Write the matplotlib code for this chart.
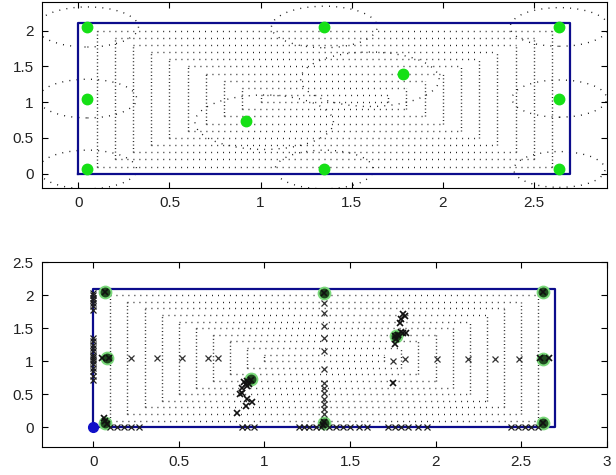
import matplotlib
matplotlib.use("Agg")
import matplotlib.pyplot as plt
from matplotlib.patches import Circle

plt.rcParams['font.family'] = ['Liberation Sans', 'DejaVu Sans']

# field (blue rectangle)
field_w = 2.7
field_h = 2.1

# nested coverage rings (inset from the field border)
ring_offsets = [0.1, 0.2, 0.3, 0.4, 0.5, 0.6, 0.7, 0.8, 0.9, 1.0]

# anchor / node positions (top plot)
node_x = [0.05, 0.05, 0.05, 1.35, 1.35, 2.64, 2.64, 2.64, 0.92, 1.78]
node_y = [0.06, 1.05, 2.05, 0.06, 2.05, 0.06, 1.05, 2.05, 0.73, 1.40]

# range circles (top plot)
circle_x = [0.05, 0.05, 0.05, 1.35, 1.35, 2.64, 2.64, 2.64, 1.02, 1.60]
circle_y = [0.06, 1.05, 2.05, 0.06, 2.05, 0.06, 1.05, 2.05, 0.72, 1.32]
circle_r = [0.27, 0.27, 0.28, 0.27, 0.29, 0.25, 0.26, 0.27, 0.38, 0.38]

# estimated node positions (bottom plot)
est_x = [0.07, 0.08, 0.07, 0.92, 1.35, 1.35, 1.77, 2.63, 2.63, 2.63]
est_y = [0.06, 1.05, 2.05, 0.73, 2.03, 0.07, 1.38, 2.05, 1.04, 0.06]

# sample points (bottom plot)
left_y = [0.72, 0.78, 0.85, 0.90, 0.95, 1.00, 1.03, 1.06, 1.10, 1.15, 1.20,
          1.25, 1.30, 1.35, 1.78, 1.83, 1.88, 1.92, 1.96, 2.00, 2.03]
bottom_x = [0.10, 0.14, 0.18, 0.22, 0.27, 0.87, 0.90, 0.94, 1.20, 1.23, 1.26,
            1.30, 1.33, 1.38, 1.42, 1.46, 1.50, 1.55, 1.60, 1.72, 1.76, 1.80,
            1.84, 1.90, 1.95, 2.44, 2.48, 2.52, 2.56, 2.60]
row_x = [0.22, 0.37, 0.52, 0.67, 0.73, 1.75, 1.82, 2.01, 2.19, 2.35, 2.49]
row_y = [1.05, 1.05, 1.05, 1.05, 1.05, 1.00, 1.04, 1.04, 1.04, 1.04, 1.04]
col_y = [1.88, 1.73, 1.53, 1.35, 1.15, 0.88, 0.67, 0.59, 0.52, 0.42, 0.35,
         0.27, 0.20]
cluster_x = [0.90, 0.87, 0.89, 0.86, 0.84, 0.90, 0.93, 0.89, 0.88, 0.90, 0.87,
             0.91, 1.81, 1.80, 1.82, 1.79, 1.81, 1.83, 1.77, 1.76, 1.75, 1.80,
             1.78, 0.07, 0.06, 0.08, 0.05, 0.09, 0.07, 1.35, 1.35, 1.34, 2.63,
             2.61, 2.66, 2.63, 0.92, 1.76]
cluster_y = [0.62, 0.52, 0.65, 0.50, 0.21, 0.42, 0.38, 0.32, 0.68, 0.70, 0.60,
             0.66, 1.71, 1.64, 1.68, 1.58, 1.42, 1.42, 1.33, 1.26, 0.67, 1.44,
             1.40, 0.10, 0.14, 0.05, 1.05, 1.05, 2.05, 2.03, 0.08, 0.04, 2.05,
             1.05, 1.05, 0.06, 0.72, 1.38]

BLUE = '#0c0c8c'
DOT = '#1e1e1e'


def draw_rings(ax):
    for d in ring_offsets:
        x0, x1 = d, field_w - d
        y0, y1 = d, field_h - d
        if y1 <= y0:
            continue
        for yy in (y0, y1):
            ax.plot([x0, x1], [yy, yy], color=DOT, lw=1.0,
                    linestyle=(0, (0.7, 3.6)), solid_capstyle='butt')
        for xx in (x0, x1):
            ax.plot([xx, xx], [y0, y1], color=DOT, lw=1.0,
                    linestyle=(0, (0.7, 1.8)), solid_capstyle='butt')


def draw_field(ax):
    ax.plot([0, field_w, field_w, 0, 0], [0, 0, field_h, field_h, 0],
            color=BLUE, lw=1.6, zorder=3)


def style(ax):
    ax.tick_params(direction='in', length=4, width=0.8, top=True, right=True,
                   labelsize=11, pad=6, labelcolor='#222222')
    for s in ax.spines.values():
        s.set_linewidth(0.8)


fig = plt.figure(figsize=(6.16, 4.75), dpi=100)

ax1 = fig.add_axes([0.068, 0.604, 0.917, 0.392])
draw_rings(ax1)
for cx, cy, r in zip(circle_x, circle_y, circle_r):
    ax1.add_patch(Circle((cx, cy), r, fill=False, edgecolor='#111111',
                         lw=1.0, linestyle=(0, (0.7, 4.5))))
draw_field(ax1)
ax1.plot(node_x, node_y, 'o', color='#16e016', ms=7.5, mec='#16e016', zorder=4)
ax1.set_xlim(-0.2, 2.9)
ax1.set_ylim(-0.2, 2.4)
ax1.set_xticks([0, 0.5, 1, 1.5, 2, 2.5])
ax1.set_xticklabels(['0', '0.5', '1', '1.5', '2', '2.5'])
ax1.set_yticks([0, 0.5, 1, 1.5, 2])
ax1.set_yticklabels(['0', '0.5', '1', '1.5', '2'])
style(ax1)

ax2 = fig.add_axes([0.068, 0.059, 0.917, 0.389])
draw_rings(ax2)
draw_field(ax2)
ax2.plot([0] * len(left_y), left_y, 'x', color=DOT, ms=4.5, mew=0.9, zorder=5)
ax2.plot(bottom_x, [0] * len(bottom_x), 'x', color=DOT, ms=4.5, mew=0.9, zorder=5)
ax2.plot(row_x, row_y, 'x', color='#333333', ms=5, mew=0.9, zorder=5)
ax2.plot([1.35] * len(col_y), col_y, 'x', color='#333333', ms=5, mew=0.9, zorder=5)
ax2.plot(est_x, est_y, 'o', mfc='#1e4a1e', mec='#7ad87a', ms=8.5, mew=1.4, zorder=4)
ax2.plot(cluster_x, cluster_y, 'x', color='#111111', ms=5, mew=1.2, zorder=5)
ax2.plot([0], [0], 'o', color='#1010c8', ms=7, zorder=6)
ax2.set_xlim(-0.3, 3)
ax2.set_ylim(-0.3, 2.5)
ax2.set_xticks([0, 0.5, 1, 1.5, 2, 2.5, 3])
ax2.set_xticklabels(['0', '0.5', '1', '1.5', '2', '2.5', '3'])
ax2.set_yticks([0, 0.5, 1, 1.5, 2, 2.5])
ax2.set_yticklabels(['0', '0.5', '1', '1.5', '2', '2.5'])
style(ax2)

fig.savefig('out.png', dpi=100)
